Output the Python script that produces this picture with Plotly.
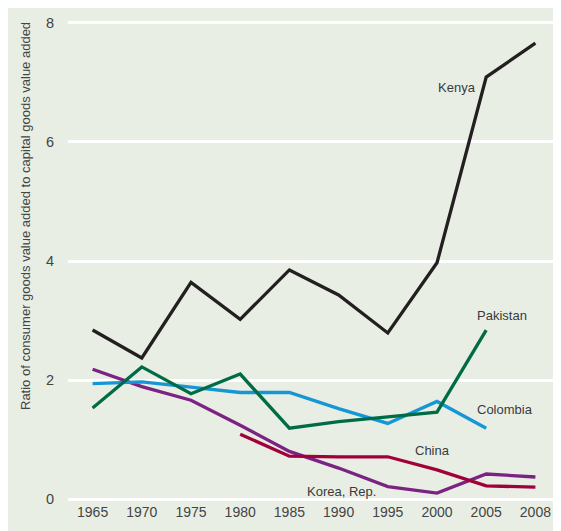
import plotly.graph_objects as go

# Years on the x axis (evenly spaced categories, 2008 included)
years = ['1965', '1970', '1975', '1980', '1985', '1990', '1995', '2000', '2005', '2008']

# Ratio of consumer goods value added to capital goods value added
kenya = [2.84, 2.37, 3.64, 3.02, 3.85, 3.43, 2.79, 3.97, 7.09, 7.66]
pakistan = [1.53, 2.22, 1.77, 2.10, 1.19, 1.30, 1.38, 1.46, 2.84, None]
colombia = [1.94, 1.97, 1.88, 1.79, 1.79, 1.52, 1.27, 1.64, 1.19, None]
korea = [2.18, 1.89, 1.66, 1.24, 0.80, 0.52, 0.21, 0.10, 0.42, 0.37]
china = [None, None, None, 1.09, 0.72, 0.71, 0.71, 0.49, 0.22, 0.20]

series = [
    ('Korea, Rep.', korea, '#7b2382'),
    ('China', china, '#a1003b'),
    ('Colombia', colombia, '#1497d4'),
    ('Pakistan', pakistan, '#006b45'),
    ('Kenya', kenya, '#231f20'),
]

fig = go.Figure()
for name, vals, col in series:
    fig.add_trace(go.Scatter(
        x=years, y=vals, name=name, mode='lines',
        line=dict(color=col, width=3.3),
        connectgaps=False,
    ))

# Inline series labels (x given as category index)
labels = [
    ('Kenya', 7.41, 6.92),
    ('Pakistan', 8.33, 3.08),
    ('Colombia', 8.39, 1.50),
    ('China', 6.9, 0.81),
    ('Korea, Rep.', 5.06, 0.13),
]
for text, xv, yv in labels:
    fig.add_annotation(
        x=xv, y=yv, text=text, showarrow=False, xanchor='center',
        font=dict(size=13, color='#3a3a3a'),
    )

# y axis title, anchored to the top of the plot like the original
fig.add_annotation(
    text='Ratio of consumer goods value added to capital goods value added',
    xref='paper', yref='paper', x=0, y=1.0, xanchor='center', yanchor='top',
    xshift=-43, textangle=-90, showarrow=False,
    font=dict(size=13, color='#444444'),
)

# page body has an 8px margin, so the figure is shrunk by that much
fig.update_layout(
    width=553, height=523,
    margin=dict(l=60, r=1, t=12, b=29),
    paper_bgcolor='#e9eee5',
    plot_bgcolor='#e9eee5',
    showlegend=False,
    font=dict(family='Liberation Sans, Arial, sans-serif', size=14, color='#444444'),
    xaxis=dict(
        type='category', range=[-0.5, 9.5],
        showgrid=False, zeroline=False, showline=False,
        ticks='', tickfont=dict(size=14),
    ),
    yaxis=dict(
        range=[-0.05, 8.05], tickvals=[0, 2, 4, 6, 8],
        showgrid=True, gridcolor='#ffffff', gridwidth=2.5,
        zeroline=False, showline=False, ticks='',
        ticklabelstandoff=13, tickfont=dict(size=14.5),
    ),
)

fig.write_html('out.html')
